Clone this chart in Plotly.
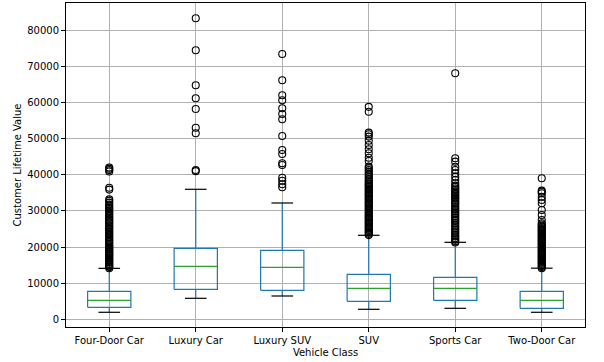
import plotly.graph_objects as go

categories = ["Four-Door Car", "Luxury Car", "Luxury SUV", "SUV", "Sports Car", "Two-Door Car"]
q1 = [3320, 8300, 8030, 4980, 5260, 3040]
median = [5260, 14670, 14390, 8580, 8580, 5260]
q3 = [7750, 19650, 19100, 12450, 11620, 7750]
lower_whisker = [1940, 5810, 6450, 2770, 3040, 1940]
upper_whisker = [14100, 35980, 32190, 23250, 21310, 14150]

out_four_door = [14150, 14450, 14700, 15050, 15300, 15650, 15900, 16250, 16500, 16850, 17100, 17450,
                 17700, 18050, 18300, 18650, 18900, 19250, 19500, 19850, 20150, 20500, 20900, 21250,
                 21700, 22050, 22500, 22850, 23300, 23650, 24100, 24450, 24900, 25250, 25700, 26050,
                 26500, 26850, 27300, 27650, 28100, 28450, 28900, 29250, 29700, 30050, 30500, 30850,
                 31300, 31750, 32300, 32800, 33200, 35900, 36400, 40900, 41300, 41700, 42000]
out_luxury_car = [41000, 41320, 51480, 53030, 58200, 61170, 64760, 74450, 83300]
out_luxury_suv = [36530, 37360, 38360, 39190, 42710, 43180, 45750, 46850, 50730, 55350, 56820,
                  58400, 60610, 62000, 66150, 73430]
out_suv = [23300, 23650, 24000, 24350, 24700, 25050, 25400, 25750, 26100, 26450, 26800, 27150,
           27500, 27850, 28200, 28550, 28900, 29250, 29600, 29950, 30300, 30650, 31000, 31350,
           31700, 32050, 32400, 32750, 33100, 33450, 33800, 34150, 34500, 34850, 35200, 35550,
           35900, 36250, 36600, 36950, 37300, 37650, 38000, 38400, 38800, 39300, 39800, 40300,
           40800, 41300, 41800, 42250, 43820, 44730, 45950, 47060, 48250, 49450, 50560, 51200,
           51670, 57460, 58800]
out_sports_car = [21250, 21600, 22000, 22400, 22900, 23300, 23800, 24300, 24800, 25200, 25700,
                  26200, 26700, 27200, 27600, 28100, 28600, 29100, 29500, 29900, 30300, 30700,
                  31200, 31700, 32100, 32500, 33000, 33400, 33800, 34200, 34600, 35000, 35400,
                  35800, 36200, 36600, 37000, 37640, 38550, 39480, 40400, 41320, 42240, 43630,
                  44560, 68080]
out_two_door = [14150, 14450, 14750, 15050, 15350, 15650, 15950, 16250, 16550, 16850, 17150,
                17450, 17750, 18050, 18350, 18650, 18950, 19250, 19550, 19850, 20150, 20450,
                20750, 21050, 21350, 21650, 21950, 22250, 22550, 22850, 23150, 23450, 23750,
                24050, 24350, 24650, 24950, 25250, 25550, 25900, 26250, 26570, 27480, 28870,
                30250, 32100, 33020, 33930, 34870, 35300, 35600, 39030]
outliers = [out_four_door, out_luxury_car, out_luxury_suv, out_suv, out_sports_car, out_two_door]

y_ticks = [0, 10000, 20000, 30000, 40000, 50000, 60000, 70000, 80000]

BOX_HALF = 0.25
CAP_HALF = 0.125

box_x, box_y = [], []
med_x, med_y = [], []
wh_x, wh_y = [], []
cap_x, cap_y = [], []
fl_x, fl_y = [], []
for i in range(len(categories)):
    p = i + 1
    box_x += [p - BOX_HALF, p + BOX_HALF, p + BOX_HALF, p - BOX_HALF, p - BOX_HALF, None]
    box_y += [q1[i], q1[i], q3[i], q3[i], q1[i], None]
    med_x += [p - BOX_HALF, p + BOX_HALF, None]
    med_y += [median[i], median[i], None]
    wh_x += [p, p, None, p, p, None]
    wh_y += [q1[i], lower_whisker[i], None, q3[i], upper_whisker[i], None]
    cap_x += [p - CAP_HALF, p + CAP_HALF, None, p - CAP_HALF, p + CAP_HALF, None]
    cap_y += [lower_whisker[i], lower_whisker[i], None, upper_whisker[i], upper_whisker[i], None]
    fl_x += [p] * len(outliers[i])
    fl_y += outliers[i]

fig = go.Figure()
fig.add_trace(go.Scatter(x=wh_x, y=wh_y, mode="lines", line=dict(color="#1f77b4", width=1.2),
                         showlegend=False, hoverinfo="skip"))
fig.add_trace(go.Scatter(x=cap_x, y=cap_y, mode="lines", line=dict(color="black", width=1.2),
                         showlegend=False, hoverinfo="skip"))
fig.add_trace(go.Scatter(x=box_x, y=box_y, mode="lines", line=dict(color="#1f77b4", width=1.2),
                         showlegend=False, hoverinfo="skip"))
fig.add_trace(go.Scatter(x=med_x, y=med_y, mode="lines", line=dict(color="#2ca02c", width=1.2),
                         showlegend=False, hoverinfo="skip"))
fig.add_trace(go.Scatter(x=fl_x, y=fl_y, mode="markers",
                         marker=dict(symbol="circle-open", size=7, color="black", line=dict(width=1.1)),
                         showlegend=False))

font = dict(family="DejaVu Sans", size=10, color="black")
fig.update_layout(
    width=604, height=362,
    margin=dict(l=66, r=19, t=3, b=35, autoexpand=False),
    paper_bgcolor="white", plot_bgcolor="white",
    font=font,
    showlegend=False,
)
fig.update_xaxes(
    range=[0.5, 6.5], tickmode="array", tickvals=list(range(1, len(categories) + 1)), ticktext=categories,
    showgrid=True, gridcolor="#b0b0b0", gridwidth=1, zeroline=False,
    showline=True, linecolor="black", linewidth=1, mirror=True,
    ticks="outside", ticklen=4, tickcolor="black",
    title=dict(text="Vehicle Class", font=font, standoff=3),
    tickfont=font, automargin=False,
)
fig.update_yaxes(
    range=[-2130, 87540], tickmode="array", tickvals=y_ticks, ticktext=[str(v) for v in y_ticks],
    showgrid=True, gridcolor="#b0b0b0", gridwidth=1, zeroline=False,
    showline=True, linecolor="black", linewidth=1, mirror=True,
    ticks="outside", ticklen=4, tickcolor="black",
    title=dict(text="Customer Lifetime Value", font=font, standoff=3),
    tickfont=font, automargin=False,
)
fig.write_html("out.html", config={"displayModeBar": False},
               post_script="document.body.style.margin='0';")
